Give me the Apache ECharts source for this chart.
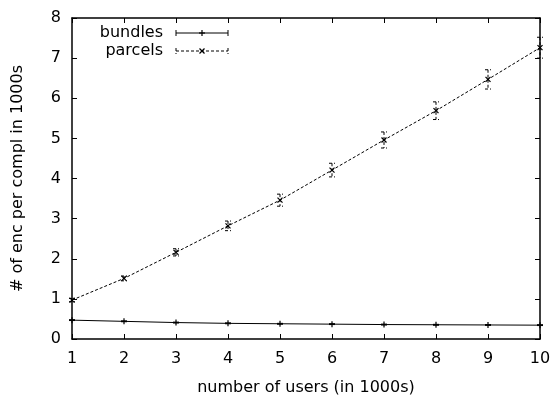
<!DOCTYPE html>
<html>
<head>
<meta charset="utf-8">
<script src="https://cdn.jsdelivr.net/npm/echarts@6/dist/echarts.min.js"></script>
<style>html,body{margin:0;padding:0;background:#fff}#c{width:555px;height:396px}</style>
</head>
<body>
<div id="c"></div>
<script>
var users = [1, 2, 3, 4, 5, 6, 7, 8, 9, 10];
var bundles = [0.47, 0.44, 0.41, 0.39, 0.38, 0.37, 0.36, 0.355, 0.35, 0.345];
var bundlesErr = [0.01, 0.01, 0.01, 0.01, 0.01, 0.01, 0.01, 0.01, 0.01, 0.01];
var parcels = [0.97, 1.51, 2.16, 2.82, 3.46, 4.21, 4.96, 5.69, 6.47, 7.26];
var parcelsErr = [0.04, 0.06, 0.09, 0.12, 0.15, 0.17, 0.2, 0.22, 0.24, 0.26];
var seriesNames = ['bundles', 'parcels'];
var xTicks = {min: 1, max: 10, interval: 1};
var yTicks = {min: 0, max: 8, interval: 1};
var xName = 'number of users (in 1000s)';
var yName = '# of enc per compl in 1000s';

var FONT = 'DejaVu Sans, Liberation Sans, sans-serif';
var FS = 16;

function markerLines(kind, cx, cy, s, style) {
  if (kind === 'plus') {
    return [
      {type: 'line', shape: {x1: cx - s, y1: cy, x2: cx + s, y2: cy}, style: style},
      {type: 'line', shape: {x1: cx, y1: cy - s, x2: cx, y2: cy + s}, style: style}
    ];
  }
  return [
    {type: 'line', shape: {x1: cx - s, y1: cy - s, x2: cx + s, y2: cy + s}, style: style},
    {type: 'line', shape: {x1: cx - s, y1: cy + s, x2: cx + s, y2: cy - s}, style: style}
  ];
}

function makeRender(kind, dashed, msize) {
  return function (params, api) {
    var x = api.value(0), y = api.value(1), e = api.value(2);
    var p = api.coord([x, y]);
    var t = api.coord([x, y + e]);
    var b = api.coord([x, y - e]);
    var st = {stroke: '#000', lineWidth: 1, lineDash: dashed ? [3, 2] : null};
    var solid = {stroke: '#000', lineWidth: 1.2};
    var cap = 3;
    var ch = [
      {type: 'line', shape: {x1: p[0], y1: t[1], x2: p[0], y2: b[1]}, style: st},
      {type: 'line', shape: {x1: p[0] - cap, y1: t[1], x2: p[0] + cap, y2: t[1]}, style: st},
      {type: 'line', shape: {x1: p[0] - cap, y1: b[1], x2: p[0] + cap, y2: b[1]}, style: st}
    ];
    ch = ch.concat(markerLines(kind, p[0], p[1], msize, solid));
    return {type: 'group', children: ch};
  };
}

function toData(vals, errs) {
  return users.map(function (u, i) { return [u, vals[i], errs[i]]; });
}
function toLine(vals) {
  return users.map(function (u, i) { return [u, vals[i]]; });
}

var axisLine = {show: true, onZero: false, lineStyle: {color: '#000', width: 1.5}};
var tick = {show: true, inside: true, length: 5, lineStyle: {color: '#000', width: 1}};

var chart = echarts.init(document.getElementById('c'), null, {renderer: 'canvas'});

var legendY = [33, 51];
var graphics = [];
seriesNames.forEach(function (n, i) {
  var y = legendY[i];
  var dashed = i === 1;
  var st = {stroke: '#000', lineWidth: 1, lineDash: dashed ? [3, 2] : null};
  graphics.push({type: 'text', x: 163, y: y, style: {text: n, font: FS + 'px ' + FONT, fill: '#000', textAlign: 'right', textVerticalAlign: 'middle'}});
  graphics.push({type: 'line', shape: {x1: 176, y1: y, x2: 228, y2: y}, style: st});
  graphics.push({type: 'line', shape: {x1: 176, y1: y - 3, x2: 176, y2: y + 3}, style: st});
  graphics.push({type: 'line', shape: {x1: 228, y1: y - 3, x2: 228, y2: y + 3}, style: st});
  markerLines(i === 0 ? 'plus' : 'cross', 202, y, i === 0 ? 3 : 2.5, {stroke: '#000', lineWidth: 1.2}).forEach(function (g) { graphics.push(g); });
});

chart.setOption({
  animation: false,
  backgroundColor: '#fff',
  grid: {left: 72, right: 15, top: 18, bottom: 57, containLabel: false, outerBoundsMode: 'none'},
  xAxis: [
    {type: 'value', position: 'bottom', min: xTicks.min, max: xTicks.max, interval: xTicks.interval,
     name: xName, nameLocation: 'middle', nameGap: 41,
     nameTextStyle: {fontFamily: FONT, fontSize: FS, color: '#000'},
     axisLine: axisLine, axisTick: tick,
     axisLabel: {fontFamily: FONT, fontSize: FS, color: '#000', margin: 12},
     splitLine: {show: false}},
    {type: 'value', position: 'top', min: xTicks.min, max: xTicks.max, interval: xTicks.interval,
     axisLine: axisLine, axisTick: tick, axisLabel: {show: false}, splitLine: {show: false}}
  ],
  yAxis: [
    {type: 'value', position: 'left', min: yTicks.min, max: yTicks.max, interval: yTicks.interval,
     name: yName, nameLocation: 'middle', nameGap: 46, nameRotate: 90,
     nameTextStyle: {fontFamily: FONT, fontSize: FS, color: '#000'},
     axisLine: axisLine, axisTick: tick,
     axisLabel: {fontFamily: FONT, fontSize: FS, color: '#000', margin: 11},
     splitLine: {show: false}},
    {type: 'value', position: 'right', min: yTicks.min, max: yTicks.max, interval: yTicks.interval,
     axisLine: axisLine, axisTick: tick, axisLabel: {show: false}, splitLine: {show: false}}
  ],
  graphic: graphics,
  series: [
    {name: seriesNames[0], type: 'line', data: toLine(bundles), symbol: 'none',
     lineStyle: {color: '#000', width: 1, type: 'solid'}, z: 3},
    {name: seriesNames[0] + ' err', type: 'custom', data: toData(bundles, bundlesErr),
     renderItem: makeRender('plus', false, 3), encode: {x: 0, y: 1}, z: 4, clip: false},
    {name: seriesNames[1], type: 'line', data: toLine(parcels), symbol: 'none',
     lineStyle: {color: '#000', width: 1, type: [3, 2]}, z: 3},
    {name: seriesNames[1] + ' err', type: 'custom', data: toData(parcels, parcelsErr),
     renderItem: makeRender('cross', true, 2.5), encode: {x: 0, y: 1}, z: 4, clip: false}
  ]
});
</script>
</body>
</html>
